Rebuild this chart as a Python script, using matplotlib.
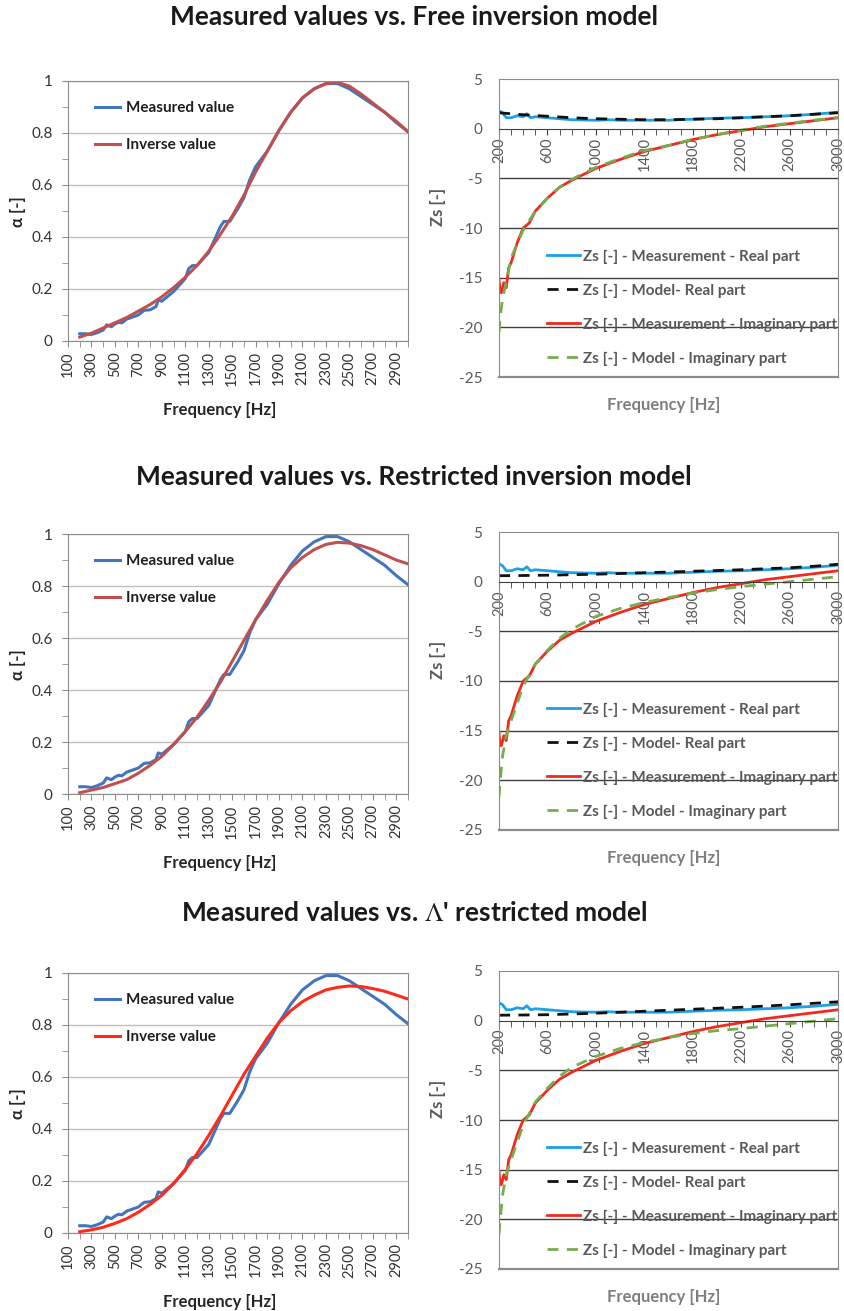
import numpy as np
import matplotlib
matplotlib.use("Agg")
import matplotlib.pyplot as plt
from matplotlib.ticker import MultipleLocator, FixedLocator, FuncFormatter

plt.rcParams['font.family'] = ['Lato', 'DejaVu Sans']
plt.rcParams['mathtext.fontset'] = 'stix'
plt.rcParams['axes.unicode_minus'] = False

# ---- absorption coefficient alpha ----
freq_a = [200, 250, 300, 350, 400, 430, 470, 500, 530, 560, 600, 700, 750, 800, 850, 870, 900,
          1000, 1100, 1130, 1160, 1200, 1300, 1400, 1430, 1480, 1550, 1600, 1650, 1700, 1800,
          1900, 2000, 2100, 2200, 2300, 2400, 2500, 2600, 2700, 2800, 2900, 3000]
alpha_meas = [0.028, 0.028, 0.025, 0.032, 0.042, 0.062, 0.055, 0.065, 0.072, 0.07, 0.084, 0.1,
              0.118, 0.12, 0.132, 0.158, 0.153, 0.19, 0.24, 0.278, 0.29, 0.29, 0.34, 0.44, 0.46,
              0.46, 0.51, 0.55, 0.62, 0.67, 0.73, 0.81, 0.88, 0.935, 0.97, 0.99, 0.99, 0.97, 0.94,
              0.91, 0.88, 0.84, 0.805]

freq_m = [200, 300, 400, 500, 600, 700, 800, 900, 1000, 1100, 1200, 1300, 1400, 1500, 1600,
          1700, 1800, 1900, 2000, 2100, 2200, 2300, 2400, 2500, 2600, 2700, 2800, 2900, 3000]
alpha_free = [0.015, 0.03, 0.05, 0.07, 0.09, 0.115, 0.14, 0.17, 0.205, 0.245, 0.29, 0.345, 0.41,
              0.48, 0.56, 0.65, 0.73, 0.81, 0.88, 0.935, 0.97, 0.99, 0.995, 0.98, 0.95, 0.915,
              0.88, 0.845, 0.805]
alpha_restr = [0.005, 0.015, 0.025, 0.04, 0.055, 0.08, 0.11, 0.145, 0.19, 0.24, 0.295, 0.36, 0.43,
               0.51, 0.59, 0.67, 0.745, 0.815, 0.87, 0.91, 0.94, 0.96, 0.968, 0.965, 0.955, 0.94,
               0.92, 0.90, 0.885]
alpha_lam = [0.005, 0.012, 0.022, 0.037, 0.055, 0.08, 0.11, 0.145, 0.19, 0.245, 0.305, 0.375,
             0.45, 0.53, 0.61, 0.68, 0.75, 0.81, 0.855, 0.89, 0.915, 0.935, 0.945, 0.95, 0.948,
             0.94, 0.93, 0.915, 0.90]

# ---- surface impedance Zs ----
freq_zr = [200, 230, 260, 300, 350, 400, 430, 460, 500, 600, 800, 1000, 1100, 1200, 1400, 1600,
           1800, 2000, 2200, 2400, 2600, 2800, 3000]
zs_real_meas = [1.8, 1.6, 1.1, 1.1, 1.3, 1.2, 1.5, 1.1, 1.2, 1.1, 0.9, 0.85, 0.9, 0.85, 0.85,
                0.85, 0.95, 1.05, 1.1, 1.2, 1.3, 1.45, 1.65]
freq_zi = [200, 210, 220, 240, 260, 280, 300, 350, 400, 450, 500, 600, 700, 800, 900, 1000, 1200,
           1400, 1600, 1800, 2000, 2200, 2400, 2600, 2800, 3000]
zs_imag_meas = [-15.2, -16.5, -16.5, -15.5, -16.0, -14.0, -13.5, -11.5, -10.0, -9.5, -8.3, -7.0,
                -5.9, -5.2, -4.6, -4.0, -3.1, -2.3, -1.7, -1.1, -0.6, -0.2, 0.2, 0.5, 0.8, 1.1]

freq_z = [200, 400, 600, 800, 1000, 1200, 1400, 1600, 1800, 2000, 2200, 2400, 2600, 2800, 3000]
zr_free = [1.6, 1.4, 1.25, 1.1, 1.0, 0.95, 0.9, 0.9, 0.95, 1.0, 1.1, 1.2, 1.3, 1.45, 1.6]
zr_restr = [0.6, 0.62, 0.65, 0.7, 0.75, 0.82, 0.9, 0.97, 1.05, 1.12, 1.2, 1.3, 1.4, 1.55, 1.75]
zr_lam = [0.55, 0.57, 0.6, 0.67, 0.75, 0.85, 0.95, 1.05, 1.15, 1.25, 1.35, 1.47, 1.6, 1.75, 1.9]

freq_zm = [200, 210, 230, 260, 300, 400, 500, 600, 700, 800, 1000, 1200, 1400, 1600, 1800, 2000,
           2200, 2400, 2600, 2800, 3000]
zi_free = [-20.5, -19.0, -17.0, -15.5, -13.0, -10.2, -8.3, -7.0, -5.9, -5.1, -3.9, -3.0, -2.2,
           -1.7, -1.1, -0.6, -0.15, 0.25, 0.55, 0.85, 1.1]
zi_restr = [-21.7, -20.0, -17.5, -15.5, -14.0, -10.5, -8.3, -6.9, -5.7, -4.8, -3.5, -2.7, -2.1,
            -1.6, -1.15, -0.8, -0.5, -0.25, 0.0, 0.25, 0.5]
zi_lam = [-21.5, -20.0, -17.5, -15.5, -14.0, -10.5, -8.2, -6.8, -5.6, -4.7, -3.6, -2.8, -2.2,
          -1.7, -1.3, -1.0, -0.8, -0.55, -0.3, -0.05, 0.2]

titles = ["Measured values vs. Free inversion model",
          "Measured values vs. Restricted inversion model",
          r"Measured values vs. $\mathrm{\Lambda}$' restricted model"]
inverse_sets = [alpha_free, alpha_restr, alpha_lam]
inverse_colors = ['#C0504D', '#C0504D', '#FF2A1A']
zr_sets = [zr_free, zr_restr, zr_lam]
zi_sets = [zi_free, zi_restr, zi_lam]

W, H = 845, 1311
fig = plt.figure(figsize=(W / 100, H / 100), dpi=100)

def box(x0, top, x1, bottom):
    return [x0 / W, 1 - bottom / H, (x1 - x0) / W, (bottom - top) / H]

row_offsets = [0, 453, 892]
title_y = [17, 477, 913]

for i in range(3):
    dy = row_offsets[i]
    fig.text(0.49, 1 - title_y[i] / H, titles[i], ha='center', va='center',
             fontsize=19, fontweight='bold', color='#1a1a1a')

    # left: absorption
    ax = fig.add_axes(box(68, 81 + dy, 408, 341 + dy))
    ax.plot(freq_a, alpha_meas, color='#4275BE', lw=2.2, label='Measured value')
    ax.plot(freq_m, inverse_sets[i], color=inverse_colors[i], lw=2.2, label='Inverse value')
    ax.set_xlim(100, 3000)
    ax.set_ylim(0, 1)
    ax.xaxis.set_major_locator(FixedLocator(range(100, 3000, 200)))
    ax.xaxis.set_minor_locator(MultipleLocator(100))
    ax.yaxis.set_major_locator(MultipleLocator(0.2))
    ax.yaxis.set_minor_locator(MultipleLocator(0.1))
    ax.yaxis.set_major_formatter(FuncFormatter(lambda v, p: '%g' % round(v, 1)))
    ax.grid(axis='y', color='#BFBFBF', lw=1)
    ax.set_axisbelow(True)
    for s in ax.spines.values():
        s.set_color('#8C8C8C')
    ax.tick_params(axis='x', which='both', direction='out', color='#8C8C8C', labelrotation=90,
                   labelsize=10.5, labelcolor='#333333', length=4)
    ax.tick_params(axis='y', which='both', direction='out', color='#8C8C8C',
                   labelsize=11, labelcolor='#333333', length=4, pad=7)
    ax.set_xlabel('Frequency [Hz]', fontsize=12, fontweight='bold', color='#262626')
    ax.xaxis.set_label_coords(0.447, -0.235)
    ax.set_ylabel('α [-]', fontsize=12, fontweight='bold', color='#262626')
    ax.yaxis.set_label_coords(-0.124, 0.496)
    ax.legend(loc='upper left', bbox_to_anchor=(0.04, 0.975), frameon=False,
              prop={'weight': 'bold', 'size': 11}, labelspacing=1.5, handlelength=1.6,
              handletextpad=0.4, labelcolor='#1f1f1f')

    # right: surface impedance
    bx = fig.add_axes(box(499, 79 + dy, 838, 377 + dy))
    bx.plot(freq_zr, zs_real_meas, color='#1EA0E6', lw=2, label='Zs [-] - Measurement - Real part')
    bx.plot(freq_z, zr_sets[i], color='#111111', lw=2, dashes=(4, 3), label='Zs [-] - Model- Real part')
    bx.plot(freq_zi, zs_imag_meas, color='#F02A1E', lw=2, label='Zs [-] - Measurement - Imaginary part')
    bx.plot(freq_zm, zi_sets[i], color='#77AC4F', lw=2, dashes=(4, 3), label='Zs [-] - Model - Imaginary part')
    bx.set_xlim(200, 3000)
    bx.set_ylim(-25, 5)
    bx.yaxis.set_major_locator(MultipleLocator(5))
    bx.xaxis.set_major_locator(FixedLocator(range(200, 3001, 400)))
    bx.xaxis.set_minor_locator(MultipleLocator(100))
    for yv in [-5, -10, -15, -20]:
        bx.axhline(yv, color='#404040', lw=1, zorder=0)
    for s in ['top', 'right', 'left']:
        bx.spines[s].set_color('#8C8C8C')
    bx.spines['bottom'].set_position(('data', 0))
    bx.spines['bottom'].set_color('#404040')
    bx.axhline(-25, color='#8C8C8C', lw=1.6, clip_on=False)
    bx.tick_params(axis='x', which='both', direction='out', color='#404040', labelrotation=90,
                   labelsize=10.5, labelcolor='#595959', length=4, pad=2)
    bx.tick_params(axis='y', length=0, labelsize=11, labelcolor='#595959', pad=12)
    bx.set_xlabel('Frequency [Hz]', fontsize=12, fontweight='bold', color='#7F7F7F')
    bx.xaxis.set_label_coords(0.487, -0.067)
    bx.set_ylabel('Zs [-]', fontsize=12, fontweight='bold', color='#595959')
    bx.yaxis.set_label_coords(-0.156, 0.57)
    bx.legend(loc='upper left', bbox_to_anchor=(0.1, 0.474), frameon=False,
              prop={'weight': 'bold', 'size': 11}, labelspacing=1.3, handlelength=2.2,
              handletextpad=0.2, labelcolor='#595959')

fig.savefig('out.png', dpi=100)
